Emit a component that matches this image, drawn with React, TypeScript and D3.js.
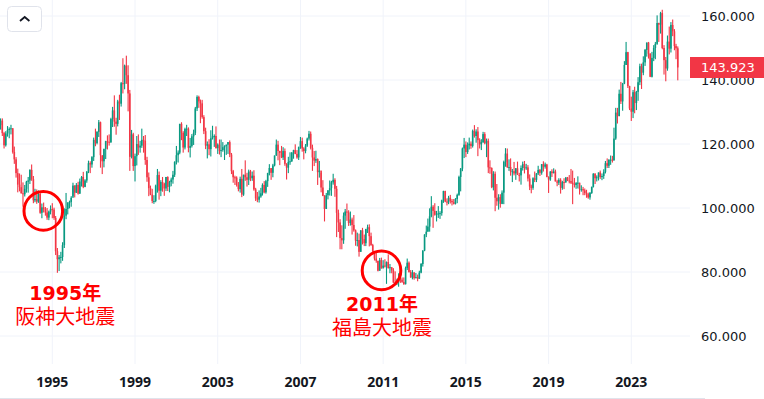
import React from "react";
import * as d3 from "d3";

// Monthly USD/JPY candles, starting July 1992. Each row: [high, low, close]; open = previous close.
const START_YEAR = 1992;
const START_MONTH = 6; // July (0-based)
const FIRST_OPEN = 125.9;

const y1992 = [[128.0,124.5,127.3],[128.0,122.5,123.4],[123.8,118.6,119.6],[124.0,119.2,123.3],[125.6,122.3,124.4],[125.2,121.8,124.7]];
const y1993 = [[126.0,123.0,124.9],[125.0,117.0,117.5],[119.2,113.8,115.2],[115.9,109.5,110.9],[112.3,104.9,107.3],[110.8,105.2,106.5],[110.4,104.5,104.6],[108.0,100.4,104.3],[107.2,103.6,106.0],[108.5,104.8,108.2],[109.7,104.8,108.6],[112.1,107.5,111.9]];
const y1994 = [[113.6,108.5,109.0],[110.0,101.5,102.4],[106.0,101.8,102.8],[105.8,101.3,102.0],[105.5,101.6,104.4],[104.9,98.2,98.5],[101.4,96.8,100.2],[101.7,98.6,99.7],[100.3,97.6,98.6],[100.0,96.3,97.0],[99.2,96.2,98.9],[100.8,98.0,99.7]];
const y1995 = [[101.5,96.8,99.5],[100.1,96.3,96.9],[97.5,85.3,86.5],[87.5,79.75,84.0],[85.3,80.3,84.6],[86.3,82.7,84.7],[89.3,83.5,88.4],[99.9,87.5,97.6],[104.7,96.5,99.7],[101.5,98.0,101.8],[102.3,99.9,101.9],[103.7,100.4,103.2]];
const y1996 = [[107.9,103.8,107.0],[107.1,103.3,104.8],[107.8,104.7,107.2],[108.2,104.2,104.5],[109.2,104.4,108.3],[110.0,106.7,109.7],[111.3,106.2,106.6],[109.0,106.5,108.6],[111.5,107.9,111.4],[114.8,110.9,114.0],[114.6,110.9,113.6],[116.2,112.6,115.9]];
const y1997 = [[122.0,114.7,121.3],[124.8,119.3,120.3],[124.0,119.9,123.8],[127.5,122.2,126.8],[127.0,112.6,116.5],[116.4,110.6,114.6],[118.5,112.7,118.5],[121.0,115.3,120.9],[122.7,118.3,120.7],[123.0,119.5,120.5],[128.2,120.4,127.8],[131.6,125.3,130.5]];
const y1998 = [[135.2,125.4,127.0],[128.2,122.9,126.3],[133.8,125.5,133.3],[135.4,127.5,132.6],[139.4,131.7,139.0],[146.8,135.8,138.8],[144.8,137.1,144.5],[147.6,138.8,141.5],[144.6,130.2,135.8],[136.9,111.6,116.0],[124.4,115.5,123.0],[123.5,111.6,113.1]];
const y1999 = [[117.0,108.3,116.2],[122.5,113.3,120.0],[123.0,116.6,118.9],[121.0,117.3,119.5],[124.8,118.8,121.3],[122.5,117.3,121.0],[122.8,113.5,115.0],[116.0,108.2,109.6],[111.1,103.7,106.2],[107.0,104.0,104.2],[106.0,101.5,102.2],[104.0,101.3,102.2]];
const y2000 = [[107.3,101.8,107.0],[112.2,104.8,110.3],[111.4,102.6,105.4],[108.7,103.7,108.1],[109.7,105.1,107.6],[107.9,103.8,106.1],[109.7,105.3,109.7],[109.9,105.3,106.6],[108.5,104.9,108.1],[109.5,106.8,108.9],[111.6,107.6,110.4],[114.6,109.7,114.4]];
const y2001 = [[119.4,113.6,116.5],[118.0,114.2,117.3],[126.3,116.8,126.3],[126.8,121.2,123.5],[124.0,117.3,118.9],[125.1,118.3,124.7],[126.0,122.5,124.8],[125.2,117.4,118.8],[121.9,115.8,119.4],[123.1,118.9,122.4],[124.5,119.7,123.5],[131.6,122.8,131.1]];
const y2002 = [[135.2,130.3,134.7],[135.1,131.3,133.3],[133.9,126.5,132.7],[133.8,127.9,128.4],[129.0,123.1,124.0],[125.1,118.4,119.5],[120.8,115.5,119.9],[121.5,116.5,118.4],[124.3,116.1,121.8],[125.7,121.4,122.4],[123.0,119.1,122.5],[125.5,118.6,118.7]];
const y2003 = [[120.2,116.9,119.8],[121.4,116.7,117.8],[121.4,115.9,118.1],[120.6,117.6,119.0],[119.6,115.0,119.4],[119.8,116.6,119.8],[120.6,116.9,120.6],[121.1,115.9,116.7],[117.2,110.6,111.5],[111.9,107.9,109.6],[110.1,107.2,109.5],[109.9,106.7,107.2]];
const y2004 = [[108.1,105.2,105.9],[109.8,104.8,109.1],[112.2,103.4,104.2],[110.4,103.8,110.4],[114.9,108.5,109.6],[111.0,106.7,108.8],[112.0,107.2,111.4],[111.9,108.4,109.3],[111.4,108.5,110.1],[111.8,105.4,105.8],[106.3,102.2,103.0],[105.0,101.8,102.6]];
const y2005 = [[105.5,101.7,103.6],[106.3,103.2,104.6],[107.7,103.9,107.2],[108.4,104.6,104.9],[108.8,104.5,108.4],[111.0,106.6,110.9],[113.7,110.2,112.5],[112.3,108.8,111.0],[113.8,109.6,113.3],[116.4,113.0,116.4],[121.4,116.3,119.8],[121.0,114.9,117.8]];
const y2006 = [[117.9,113.4,117.2],[119.4,115.6,115.8],[119.0,115.0,117.8],[118.6,113.2,113.8],[114.0,108.9,112.6],[116.0,110.9,114.4],[117.4,113.5,114.6],[117.5,114.4,117.3],[118.2,115.4,118.1],[119.9,116.8,116.9],[118.1,115.4,115.8],[119.2,115.0,119.0]];
const y2007 = [[122.2,118.5,120.9],[122.0,117.6,118.6],[119.0,115.2,117.8],[120.0,117.1,119.5],[122.0,119.1,121.7],[124.1,121.1,123.2],[123.9,118.3,118.8],[119.8,111.6,115.8],[117.8,113.1,114.8],[117.9,114.1,115.3],[115.5,107.2,111.2],[114.7,109.5,111.7]];
const y2008 = [[111.0,104.9,106.4],[108.7,103.7,103.8],[104.0,95.8,99.7],[104.7,99.8,104.0],[105.6,102.7,105.5],[108.6,103.9,106.2],[108.5,103.8,108.0],[110.7,107.3,108.8],[109.3,103.5,106.0],[106.9,90.9,98.5],[99.5,92.5,95.5],[96.5,87.1,90.6]];
const y2009 = [[94.6,87.1,89.9],[98.6,88.8,97.6],[99.7,93.5,98.9],[101.4,96.0,98.6],[99.3,94.4,95.3],[98.9,94.5,96.4],[97.0,91.7,94.7],[97.8,92.6,93.0],[93.3,88.2,89.8],[92.3,88.0,90.0],[92.0,84.8,86.3],[93.1,86.3,93.0]];
const y2010 = [[93.8,88.6,90.3],[91.7,88.1,89.0],[93.5,88.1,93.4],[94.8,92.2,94.0],[94.9,88.0,91.2],[92.3,88.2,88.4],[88.8,86.1,86.5],[86.5,83.6,84.2],[86.0,82.9,83.5],[83.5,80.2,80.4],[84.4,80.4,83.7],[84.5,81.1,81.1]];
const y2011 = [[83.7,81.5,82.0],[84.0,81.4,81.8],[83.3,76.3,83.1],[85.5,81.1,81.2],[82.5,79.6,81.5],[81.5,79.6,80.5],[81.2,76.6,76.7],[80.2,75.9,76.6],[77.9,75.9,77.0],[79.6,75.4,78.0],[78.3,76.6,77.6],[78.3,76.6,76.9]];
const y2012 = [[78.3,76.0,76.2],[81.7,76.1,81.2],[84.2,80.6,82.9],[83.3,79.8,80.0],[80.6,78.2,78.3],[80.6,77.7,79.8],[80.0,77.6,78.1],[79.7,78.0,78.4],[79.2,77.1,77.9],[80.4,77.9,79.8],[82.8,79.6,82.5],[86.8,81.7,86.7]];
const y2013 = [[91.8,86.5,91.7],[94.5,90.9,92.6],[96.7,92.6,94.2],[99.9,92.6,97.4],[103.7,97.1,100.4],[100.9,93.8,99.1],[101.5,97.6,97.9],[99.1,95.8,98.2],[100.6,96.9,98.3],[99.0,96.6,98.4],[102.6,97.6,102.4],[105.4,101.6,105.3]];
const y2014 = [[105.4,101.8,102.0],[103.0,100.8,101.8],[103.8,101.2,103.2],[104.1,101.4,102.2],[102.8,100.8,101.8],[102.8,101.1,101.3],[103.1,101.1,102.8],[104.5,101.5,104.1],[110.1,103.8,109.7],[112.5,105.2,112.3],[118.9,111.5,118.6],[121.9,115.6,119.8]];
const y2015 = [[120.8,115.9,117.5],[120.5,116.9,119.6],[122.0,118.3,120.1],[120.8,118.5,119.4],[124.5,118.9,124.1],[125.9,122.0,122.5],[124.6,120.4,123.9],[125.3,116.2,121.2],[121.8,118.6,119.9],[121.5,118.1,120.6],[123.8,120.3,123.1],[123.7,119.9,120.2]];
const y2016 = [[121.7,115.9,121.0],[121.7,110.9,112.7],[114.9,110.7,112.5],[112.7,106.2,106.5],[111.5,105.5,110.7],[111.4,99.0,103.2],[107.5,100.7,102.1],[104.3,99.5,103.4],[104.3,100.1,101.3],[105.5,101.2,104.8],[114.8,101.2,114.4],[118.7,112.9,117.0]];
const y2017 = [[118.6,112.5,112.8],[115.2,111.6,112.8],[115.5,110.1,111.4],[112.2,108.1,111.5],[114.4,110.2,110.8],[112.5,108.8,112.4],[114.5,110.6,110.3],[111.0,108.3,110.2],[113.3,107.3,112.5],[114.5,111.7,113.7],[114.7,110.8,112.5],[113.8,111.9,112.7]];
const y2018 = [[113.4,108.3,109.2],[110.5,105.6,106.7],[107.3,104.6,106.3],[109.6,105.7,109.3],[111.4,108.1,108.8],[110.9,108.1,110.8],[113.2,110.3,111.9],[112.2,110.0,111.0],[113.7,110.4,113.7],[114.6,111.4,112.9],[114.2,112.3,113.6],[113.8,109.6,109.7]];
const y2019 = [[109.9,104.7,108.9],[111.5,108.5,111.4],[112.1,109.7,110.9],[112.4,110.8,111.4],[112.0,108.3,108.3],[108.8,106.8,107.9],[109.3,107.2,108.8],[109.3,104.5,106.3],[108.5,105.7,108.1],[109.3,105.9,108.0],[109.7,107.9,109.5],[109.7,108.4,108.6]];
const y2020 = [[110.3,107.7,108.4],[112.2,107.5,107.9],[111.7,101.2,107.5],[109.4,106.4,107.2],[108.1,106.0,107.8],[109.9,106.1,107.9],[107.9,104.2,105.9],[107.1,105.1,105.9],[106.6,104.0,105.5],[106.1,104.0,104.7],[105.7,103.2,104.3],[104.8,102.9,103.3]];
const y2021 = [[105.0,102.6,104.7],[106.7,104.4,106.6],[110.9,106.4,110.7],[110.9,107.5,109.3],[110.2,108.3,109.6],[111.1,108.6,111.1],[111.7,109.1,109.7],[110.8,108.7,110.0],[112.1,109.1,111.3],[114.7,110.8,114.0],[115.5,112.5,113.2],[115.2,112.5,115.1]];
const y2022 = [[116.4,113.5,115.1],[116.3,114.2,115.0],[125.1,114.7,121.7],[131.3,121.3,129.8],[131.3,126.4,128.7],[137.0,128.7,135.7],[139.4,132.5,133.3],[139.1,130.4,138.9],[145.9,138.7,144.7],[151.9,144.7,148.7],[148.8,137.5,138.1],[138.2,130.6,131.1]];
const y2023 = [[134.8,127.2,130.1],[136.9,128.1,136.2],[137.9,129.6,132.8],[136.6,130.6,136.3],[140.9,133.5,139.3],[145.1,138.4,144.3],[145.1,137.2,142.3],[147.4,141.5,145.5],[149.7,144.4,149.4],[151.7,147.3,151.7],[151.9,146.7,148.2],[148.4,140.9,141.0]];
const y2024 = [[148.8,140.8,146.9],[150.9,145.9,150.0],[151.9,146.5,151.3],[160.2,151.0,157.8],[157.9,151.9,157.3],[161.3,154.5,160.9],[161.95,149.6,150.0],[150.9,141.7,146.2],[147.2,139.6,143.6],[153.9,142.9,152.0],[156.7,148.0,149.8],[158.1,148.6,157.2]];
const y2025 = [[158.9,153.7,155.2],[155.9,149.3,150.6],[151.3,146.5,149.9],[150.5,139.9,143.923]];

const years = [y1992,y1993,y1994,y1995,y1996,y1997,y1998,y1999,y2000,y2001,y2002,y2003,y2004,y2005,y2006,y2007,y2008,y2009,y2010,y2011,y2012,y2013,y2014,y2015,y2016,y2017,y2018,y2019,y2020,y2021,y2022,y2023,y2024,y2025];

const priceTicks = [60, 80, 100, 120, 140, 160];
const yearTicks = [1995, 1999, 2003, 2007, 2011, 2015, 2019, 2023];
const lastPriceLabel = "143.923";

const annotations = [
  { date: new Date(1994, 6, 26), value: 99.1, yearText: "1995年", titleText: "阪神大地震", dx: 22, dyYear: 89, dyTitle: 113.5 },
  { date: new Date(2010, 11, 3), value: 80.5, yearText: "2011年", titleText: "福島大地震", dx: 0.5, dyYear: 40.5, dyTitle: 65 },
];

const GREEN = "#089981";
const RED = "#f23645";

export default function App() {
  const W = 764, H = 399;
  const plotRight = 690, plotBottom = 364;
  const x = d3.scaleTime().domain([new Date(1995, 0, 1), new Date(2023, 0, 1)]).range([52.3, 631.3]);
  const y = d3.scaleLinear().domain([60, 160]).range([336, 16]);

  const rows = years.flat();
  const candles = rows.map((d, i) => ({
    date: new Date(START_YEAR, START_MONTH + i, 1),
    open: i === 0 ? FIRST_OPEN : rows[i - 1][2],
    high: d[0], low: d[1], close: d[2],
  }));

  return (
    <svg width={W} height={H} style={{ position: "fixed", left: 0, top: 0, display: "block", background: "#fff" }}>
      <defs>
        <clipPath id="plot"><rect x={0} y={0} width={plotRight} height={plotBottom} /></clipPath>
      </defs>
      <rect x={0} y={0} width={W} height={H} fill="#fff" />
      {priceTicks.map(t => (
        <line key={"h" + t} x1={0} x2={plotRight} y1={y(t)} y2={y(t)} stroke="#f0f3fa" strokeWidth={1} />
      ))}
      {yearTicks.map(t => (
        <line key={"v" + t} x1={x(new Date(t, 0, 1))} x2={x(new Date(t, 0, 1))} y1={0} y2={plotBottom} stroke="#f0f3fa" strokeWidth={1} />
      ))}
      <g clipPath="url(#plot)">
        {candles.map((c, i) => {
          const cx = x(c.date);
          const up = c.close >= c.open;
          const col = up ? GREEN : RED;
          const top = y(Math.max(c.open, c.close));
          const bot = y(Math.min(c.open, c.close));
          return (
            <g key={i}>
              <rect x={cx - 0.55} y={y(c.high)} width={1.1} height={y(c.low) - y(c.high)} fill={col} />
              <rect x={cx - 0.8} y={top} width={1.6} height={Math.max(1, bot - top)} fill={col} />
            </g>
          );
        })}
      </g>
      {priceTicks.map(t => (
        <text key={"p" + t} x={701} y={y(t) + 4.7} fontFamily="DejaVu Sans" fontSize={13} fill="#131722">{t.toFixed(3)}</text>
      ))}
      <rect x={690} y={57} width={74} height={21} fill={RED} />
      <text x={701} y={72.2} fontFamily="DejaVu Sans" fontSize={13} fill="#fff">{lastPriceLabel}</text>
      {yearTicks.map(t => (
        <text key={"t" + t} x={x(new Date(t, 0, 1))} y={386.5} textAnchor="middle" fontFamily="'Open Sans'" fontWeight={700} fontSize={14} fill="#131722">{t}</text>
      ))}
      <line x1={0} x2={705} y1={398.5} y2={398.5} stroke="#e0e3eb" strokeWidth={1} />
      <rect x={7.5} y={6.5} width={34} height={25} rx={4} fill="#fff" stroke="#e0e3eb" />
      <path d="M20,21 L24.7,17 L29.4,21" fill="none" stroke="#131722" strokeWidth={1.8} />
      {annotations.map((a, i) => {
        const ax = x(a.date), ay = y(a.value);
        return (
          <g key={"a" + i}>
            <circle cx={ax} cy={ay} r={19.3} fill="none" stroke="#ff0000" strokeWidth={3} />
            <text x={ax + a.dx} y={ay + a.dyYear} textAnchor="middle" fill="#ff0000" fontSize={19} fontFamily="'DejaVu Sans', 'Noto Sans CJK JP'" fontWeight={700}>{a.yearText}</text>
            <text x={ax + a.dx} y={ay + a.dyTitle} textAnchor="middle" fill="#ff0000" fontSize={20} fontFamily="'Noto Sans CJK JP'">{a.titleText}</text>
          </g>
        );
      })}
    </svg>
  );
}
